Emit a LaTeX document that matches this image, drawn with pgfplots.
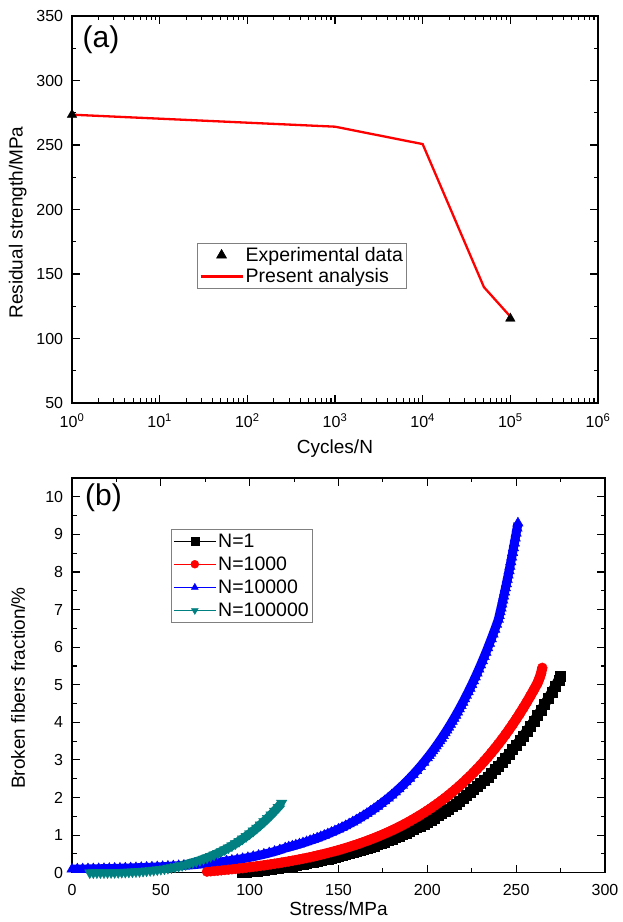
\documentclass[border=0pt]{standalone}
\usepackage{pgfplots}
\pgfplotsset{compat=1.18}
\usepackage{fontspec}
\setmainfont{Liberation Sans}
\definecolor{tealc}{RGB}{0,128,128}
\begin{document}
\begin{tikzpicture}
\path[use as bounding box] (0pt,0pt) rectangle (623pt,922pt);
\pgfplotsset{
  every axis/.append style={
    scale only axis,
    axis line style={line width=1.2pt},
    tick align=inside,
    major tick length=8pt,
    minor tick length=4.5pt,
    major tick style={line width=1.1pt,black},
    minor tick style={line width=1.1pt,black},
    tick label style={font=\fontsize{16}{19}\selectfont, inner sep=0pt},
    label style={font=\fontsize{19}{22}\selectfont},
    /pgf/number format/assume math mode=true,
    legend cell align=left,
    legend style={font=\fontsize{19.5}{22}\selectfont, draw=gray, line width=0.9pt, fill=white, inner sep=2pt},
    legend image code/.code={\draw[mark repeat=2,mark phase=2,#1] plot coordinates {(0pt,0pt) (21pt,0pt) (42pt,0pt)};},
  },
}
% ---------------- (a) ----------------
\begin{axis}[
  at={(72pt,519pt)}, anchor=south west,
  width=526pt, height=387pt,
  xmode=log, log basis x=10,
  xmin=1, xmax=1e6, ymin=50, ymax=350,
  xtick={1,10,100,1000,10000,100000,1000000},
  xticklabels={10\textsuperscript{0},10\textsuperscript{1},10\textsuperscript{2},10\textsuperscript{3},10\textsuperscript{4},10\textsuperscript{5},10\textsuperscript{6}},
  minor xtick={2,3,4,5,6,7,8,9,20,30,40,50,60,70,80,90,200,300,400,500,600,700,800,900,2000,3000,4000,5000,6000,7000,8000,9000,20000,30000,40000,50000,60000,70000,80000,90000,200000,300000,400000,500000,600000,700000,800000,900000},
  ytick={50,100,150,200,250,300,350},
  minor y tick num=1,
  xticklabel style={anchor=base, yshift=-25pt},
  yticklabel style={anchor=east, xshift=-8.7pt},
  xlabel={Cycles/N}, ylabel={Residual strength/MPa},
  xlabel style={at={(axis description cs:0.5,-0.1307)}, anchor=base},
  ylabel style={at={(axis description cs:-0.0937,0.4664)}, anchor=base},
  reverse legend,
  legend style={at={(0.2376,0.4134)}, anchor=north west, row sep=1.5pt},
]
\addplot[red, line width=2.3pt, mark=none] coordinates {
(1,273.5) (1000,264.2) (10000,250.7) (50000,139.8) (100000,117)
};
\addlegendentry{Present analysis}
\addplot[only marks, black, mark=triangle*, mark size=5.5pt] coordinates {
(1,273.5) (100000,115.5)
};
\addlegendentry{Experimental data}
\node[anchor=west, inner sep=0pt, font=\fontsize{30}{34}\selectfont] at (axis description cs:0.020,0.938) {(a)};
\end{axis}
% ---------------- (b) ----------------
\begin{axis}[
  at={(72pt,49.3pt)}, anchor=south west,
  width=533pt, height=394.7pt,
  xmin=0, xmax=300, ymin=0, ymax=10.5,
  xtick={0,50,100,150,200,250,300},
  minor x tick num=1,
  ytick={0,1,2,3,4,5,6,7,8,9,10},
  minor y tick num=1,
  xticklabel style={anchor=base, yshift=-22.3pt},
  yticklabel style={anchor=east, xshift=-8.7pt},
  xlabel={Stress/MPa}, ylabel={Broken fibers fraction/\%},
  xlabel style={at={(axis description cs:0.5,-0.1097)}, anchor=base},
  ylabel style={at={(axis description cs:-0.0882,0.468)}, anchor=base},
  legend style={at={(0.1857,0.870)}, anchor=north west, row sep=4pt},
  legend image post style={line width=0.8pt, mark size=4pt},
]
\addplot[black, line width=10pt, mark=square*, mark size=5pt, mark options={line width=0.4pt}] coordinates {
(96,0.009) (98,0.019) (100,0.030) (102,0.040) (104,0.051) (106,0.063) (108,0.075) (110,0.087) (112,0.100) (114,0.113) (116,0.126) (118,0.140) (120,0.155)
(122,0.170) (124,0.185) (126,0.201) (128,0.217) (130,0.234) (132,0.252) (134,0.270) (136,0.288) (138,0.308) (140,0.328)
(142,0.348) (144,0.369) (146,0.391) (148,0.414) (150,0.437) (152,0.461) (154,0.486) (156,0.512) (158,0.539) (160,0.566)
(162,0.594) (164,0.624) (166,0.654) (168,0.685) (170,0.717) (172,0.751) (174,0.785) (176,0.821) (178,0.857) (180,0.895)
(182,0.934) (184,0.975) (186,1.016) (188,1.060) (190,1.104) (192,1.150) (194,1.198) (196,1.247) (198,1.297) (200,1.350)
(202,1.404) (204,1.460) (206,1.517) (208,1.577) (210,1.638) (212,1.702) (214,1.767) (216,1.835) (218,1.905) (220,1.977)
(222,2.052) (224,2.129) (226,2.208) (228,2.290) (230,2.375) (232,2.463) (234,2.553) (236,2.646) (238,2.743) (240,2.843)
(242,2.945) (244,3.052) (246,3.161) (248,3.275) (250,3.392) (252,3.513) (254,3.637) (256,3.766) (258,3.899) (260,4.037)
(262,4.179) (264,4.325) (266,4.477) (268,4.633) (270,4.795) (272,4.961) (274,5.134) (275,5.220)
};
\addlegendentry{N=1}
\addplot[red, line width=10pt, mark=*, mark size=5pt, mark options={line width=0.4pt}] coordinates {
(76,0.030) (78,0.038) (80,0.046) (82,0.055) (84,0.064) (86,0.073) (88,0.082) (90,0.092) (92,0.101) (94,0.112) (96,0.122) (98,0.133) (100,0.145)
(102,0.157) (104,0.169) (106,0.181) (108,0.194) (110,0.208) (112,0.222) (114,0.236) (116,0.251) (118,0.267) (120,0.283)
(122,0.299) (124,0.316) (126,0.334) (128,0.352) (130,0.371) (132,0.390) (134,0.410) (136,0.431) (138,0.453) (140,0.475)
(142,0.498) (144,0.522) (146,0.547) (148,0.572) (150,0.599) (152,0.626) (154,0.654) (156,0.683) (158,0.714) (160,0.745)
(162,0.777) (164,0.811) (166,0.845) (168,0.881) (170,0.918) (172,0.956) (174,0.995) (176,1.036) (178,1.078) (180,1.122)
(182,1.167) (184,1.214) (186,1.262) (188,1.312) (190,1.364) (192,1.418) (194,1.473) (196,1.530) (198,1.589) (200,1.650)
(202,1.713) (204,1.779) (206,1.846) (208,1.916) (210,1.988) (212,2.063) (214,2.141) (216,2.221) (218,2.303) (220,2.389)
(222,2.477) (224,2.569) (226,2.663) (228,2.761) (230,2.862) (232,2.967) (234,3.075) (236,3.187) (238,3.303) (240,3.423)
(242,3.546) (244,3.674) (246,3.807) (248,3.944) (250,4.085) (252,4.232) (254,4.383) (256,4.540) (258,4.702) (260,4.869)
(262,5.043) (263,5.160) (264,5.300) (264.7,5.450)
};
\addlegendentry{N=1000}
\addplot[blue, line width=9pt, mark=triangle*, mark size=6pt, mark options={line width=0.4pt}] coordinates {
(0,0.093) (3,0.095) (6,0.097) (9,0.099) (12,0.101) (15,0.104) (18,0.107) (21,0.110) (24,0.113) (27,0.117) (30,0.121)
(33,0.125) (36,0.130) (39,0.135) (42,0.141) (45,0.147) (48,0.153) (51,0.160) (54,0.168) (57,0.176) (60,0.185)
(63,0.194) (66,0.205) (69,0.216) (72,0.229) (75,0.242) (78,0.257) (81,0.272) (84,0.289) (87,0.308) (90,0.328)
(93,0.350) (96,0.373) (99,0.399) (102,0.427) (105,0.457) (108,0.490) (111,0.525) (114,0.563) (117,0.605) (120,0.655)
(122,0.681) (124,0.707) (126,0.734) (128,0.762) (130,0.791) (132,0.821) (134,0.853) (136,0.885) (138,0.919) (140,0.955)
(142,0.992) (144,1.030) (146,1.070) (148,1.112) (150,1.155) (152,1.200) (154,1.247) (156,1.296) (158,1.347) (160,1.400)
(162,1.455) (164,1.512) (166,1.572) (168,1.634) (170,1.699) (172,1.766) (174,1.836) (176,1.909) (178,1.985) (180,2.064)
(182,2.146) (184,2.231) (186,2.320) (188,2.413) (190,2.510) (192,2.610) (194,2.714) (196,2.823) (198,2.936) (200,3.054)
(201,3.115) (202,3.177) (203,3.240) (204,3.304) (205,3.370) (206,3.437) (207,3.506) (208,3.575) (209,3.647) (210,3.719)
(211,3.793) (212,3.869) (213,3.946) (214,4.025) (215,4.105) (216,4.187) (217,4.271) (218,4.356) (219,4.443) (220,4.532)
(221,4.622) (222,4.715) (223,4.809) (224,4.905) (225,5.003) (226,5.103) (227,5.205) (228,5.309) (229,5.416) (230,5.524)
(231,5.635) (232,5.747) (233,5.862) (234,5.980) (235,6.100) (236,6.222) (237,6.347) (238,6.474) (239,6.604) (240,6.736)
(240.5,6.835) (241,6.936) (241.5,7.039) (242,7.142) (242.5,7.248) (243,7.355) (243.5,7.463) (244,7.574) (244.5,7.685)
(245,7.799) (245.5,7.914) (246,8.031) (246.5,8.149) (247,8.270) (247.5,8.392) (248,8.516) (248.5,8.642) (249,8.769)
(249.5,8.899) (250,9.030) (250.5,9.164) (251,9.299)
};
\addlegendentry{N=10000}
\addplot[tealc, line width=9pt, mark=triangle*, mark size=6pt, mark options={rotate=180, line width=0.4pt}] coordinates {
(10,0.000) (12,0.001) (14,0.001) (16,0.002) (18,0.003) (20,0.004) (22,0.005) (24,0.007) (26,0.009) (28,0.012) (30,0.015)
(32,0.019) (34,0.024) (36,0.029) (38,0.035) (40,0.042) (42,0.050) (44,0.059) (46,0.068) (48,0.079) (50,0.092)
(52,0.105) (54,0.120) (56,0.136) (58,0.154) (60,0.173) (62,0.195) (64,0.217) (66,0.242) (68,0.269) (70,0.297)
(72,0.328) (74,0.361) (76,0.397) (78,0.434) (80,0.475) (82,0.518) (84,0.563) (86,0.611) (88,0.663) (90,0.717)
(92,0.774) (94,0.835) (96,0.898) (98,0.966) (100,1.037) (102,1.111) (104,1.189) (106,1.271) (108,1.357) (110,1.447)
(112,1.541) (114,1.640) (116,1.742) (118,1.850)
};
\addlegendentry{N=100000}
\node[anchor=west, inner sep=0pt, font=\fontsize{30}{34}\selectfont] at (axis description cs:0.0244,0.949) {(b)};
\end{axis}
\end{tikzpicture}
\end{document}
